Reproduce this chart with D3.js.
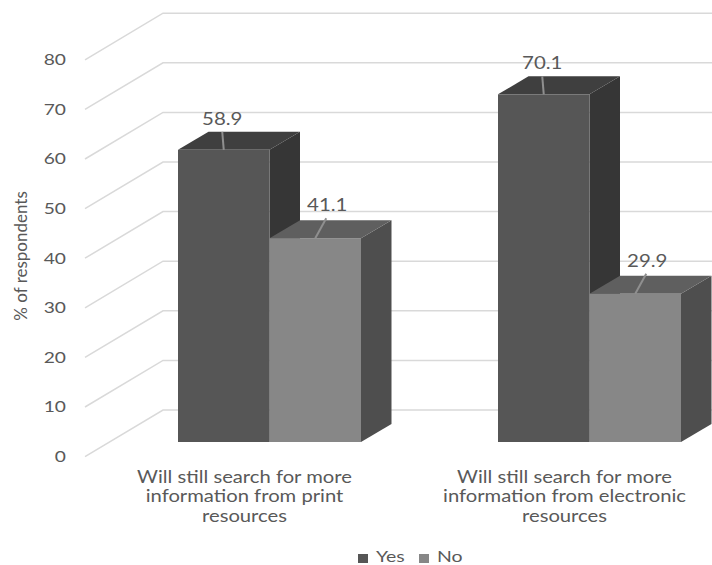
<!DOCTYPE html>
<html>
<head>
<meta charset="utf-8">
<style>
  body { margin: 0; background: #fff; }
  text { font-family: Lato, "Open Sans", sans-serif; fill: #595959; }
</style>
<script src="https://cdn.jsdelivr.net/npm/d3@7"></script>
</head>
<body>
<div id="chart"></div>
<script>
const categories = [
  "Will still search for more information from print resources",
  "Will still search for more information from electronic resources"
]
const categoryLines = [
  ["Will still search for more", "information from print", "resources"],
  ["Will still search for more", "information from electronic", "resources"]
]
const seriesNames = ["Yes", "No"]
const yes = [58.9, 70.1]
const no = [41.1, 29.9]
const ticks = [0, 10, 20, 30, 40, 50, 60, 70, 80]

const width = 712
const height = 565

// depth of the 3d box: floor runs back from the axis to the wall, bars sit inside it
const floor = { dx: 78, dyFront: 14.6, dyBack: -32 }
const bar = { dx: 30.5, dy: -18 }
const wideText = 'scale(1.24,1)'

const faces = {
  Yes: { front: '#565656', top: '#3f3f3f', side: '#363636' },
  No: { front: '#878787', top: '#5f5f5f', side: '#4e4e4e' }
}
// where each leader line leaves the bar top and where the value label sits
const labelShift = {
  Yes: { x1: -1.5, dy: -18, textDx: 0 },
  No: { x1: 11, dy: -20, textDx: 1 }
}

const svg = d3.select('#chart')
  .append('svg')
    .attr('width', width)
    .attr('height', height)
    .style('display', 'block')

const yScale = d3.scaleLinear().domain([0, 80]).range([442, 45.2])

const xGroup = d3.scaleBand()
  .domain(categories)
  .range([109.5, 749.5])
  .paddingInner(0)

const xSeries = d3.scaleBand()
  .domain(seriesNames)
  .range([xGroup.bandwidth() / 2 - 91.5, xGroup.bandwidth() / 2 + 91.5])

// gridlines: short run across the floor, then along the back wall
const gridLine = d3.line()
svg.append('g')
  .selectAll('path')
  .data(ticks)
  .join('path')
    .attr('d', t => gridLine([
      [85, yScale(t) + floor.dyFront],
      [85 + floor.dx, yScale(t) + floor.dyBack],
      [width, yScale(t) + floor.dyBack]
    ]))
    .attr('fill', 'none')
    .attr('stroke', '#d9d9d9')
    .attr('stroke-width', 1.5)

// y axis sits in front of the floor edge
const axis = svg.append('g')
  .attr('transform', 'translate(66,' + floor.dyFront + ')')
  .call(d3.axisLeft(yScale).tickValues(ticks).tickSize(0).tickPadding(0))
axis.select('.domain').remove()
axis.selectAll('text')
  .attr('x', 0)
  .attr('transform', wideText)
  .style('font-size', '15.5px')
  .style('font-family', 'Lato, sans-serif')
  .attr('fill', '#595959')

svg.append('text')
  .attr('transform', 'translate(27,256) rotate(-90)')
  .attr('text-anchor', 'middle')
  .style('font-size', '17px')
  .text('% of respondents')

const records = []
categories.forEach((c, i) => {
  records.push({ category: c, series: 'Yes', value: yes[i] })
  records.push({ category: c, series: 'No', value: no[i] })
})

const poly = d3.line()

const bars = svg.append('g')
  .selectAll('g')
  .data(records)
  .join('g')

bars.append('path')
  .attr('d', d => {
    const x1 = xGroup(d.category) + xSeries(d.series) + xSeries.bandwidth()
    return poly([
      [x1, yScale(d.value)],
      [x1 + bar.dx, yScale(d.value) + bar.dy],
      [x1 + bar.dx, yScale(0) + bar.dy],
      [x1, yScale(0)]
    ]) + 'Z'
  })
  .attr('fill', d => faces[d.series].side)

bars.append('path')
  .attr('d', d => {
    const x0 = xGroup(d.category) + xSeries(d.series)
    const x1 = x0 + xSeries.bandwidth()
    return poly([
      [x0, yScale(d.value)],
      [x0 + bar.dx, yScale(d.value) + bar.dy],
      [x1 + bar.dx, yScale(d.value) + bar.dy],
      [x1, yScale(d.value)]
    ]) + 'Z'
  })
  .attr('fill', d => faces[d.series].top)

bars.append('rect')
  .attr('x', d => xGroup(d.category) + xSeries(d.series))
  .attr('y', d => yScale(d.value))
  .attr('width', xSeries.bandwidth())
  .attr('height', d => yScale(0) - yScale(d.value))
  .attr('fill', d => faces[d.series].front)

// leader lines and value labels go on top of every bar
const labels = svg.append('g')
  .selectAll('g')
  .data(records)
  .join('g')
    .attr('transform', d => 'translate(' +
      (xGroup(d.category) + xSeries(d.series) + xSeries.bandwidth() / 2) + ',' + yScale(d.value) + ')')

labels.append('line')
  .attr('x1', 0)
  .attr('y1', 0)
  .attr('x2', d => labelShift[d.series].x1)
  .attr('y2', d => labelShift[d.series].dy)
  .attr('stroke', '#8f8f8f')
  .attr('stroke-width', 2)

labels.append('text')
  .attr('transform', d => 'translate(' + (labelShift[d.series].x1 + labelShift[d.series].textDx) + ',' +
    (labelShift[d.series].dy - 7) + ') ' + wideText)
  .attr('text-anchor', 'middle')
  .style('font-size', '16.5px')
  .text(d => d.value)

// category labels, centred a little left of each bar pair
const catLabels = svg.append('g')
  .selectAll('text')
  .data(categories)
  .join('text')
    .attr('text-anchor', 'middle')
    .attr('transform', c => 'translate(' + (xGroup(c) + xGroup.bandwidth() / 2 - 25) + ',482.5) ' + wideText)
    .style('font-size', '16.3px')

catLabels.selectAll('tspan')
  .data((c, i) => categoryLines[i])
  .join('tspan')
    .attr('x', 0)
    .attr('dy', (d, i) => i ? 20 : 0)
    .text(d => d)

// legend along the bottom
const legendX = d3.scaleOrdinal().domain(seriesNames).range([358, 419])
const legend = svg.append('g')
  .selectAll('g')
  .data(seriesNames)
  .join('g')
    .attr('transform', s => 'translate(' + legendX(s) + ',554)')

legend.append('rect')
  .attr('width', 10)
  .attr('height', 9)
  .attr('fill', s => faces[s].front)

legend.append('text')
  .attr('transform', 'translate(18,8) scale(1.3,1)')
  .style('font-size', '15px')
  .text(s => s)
</script>
</body>
</html>
